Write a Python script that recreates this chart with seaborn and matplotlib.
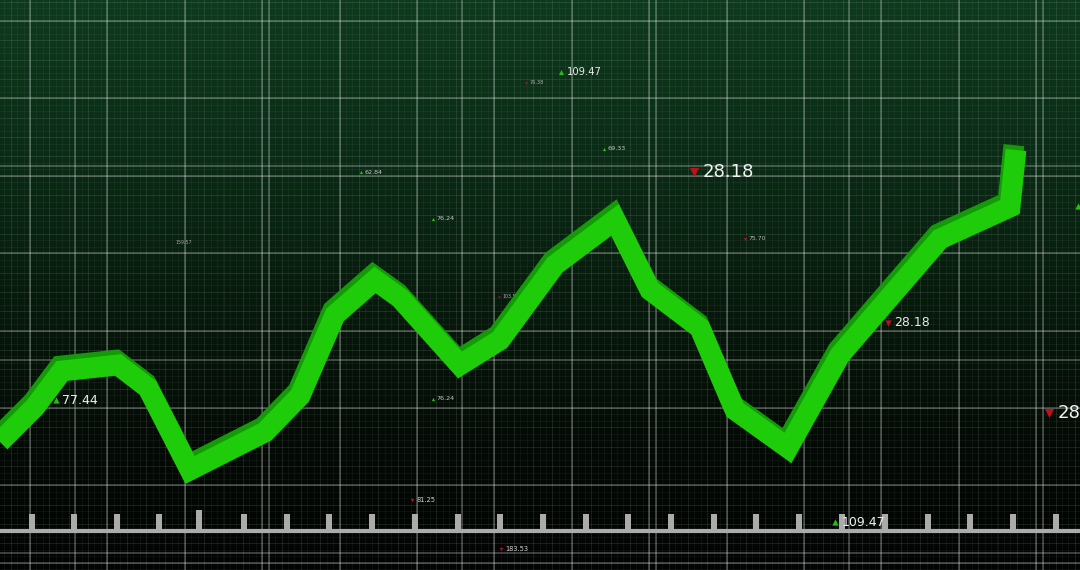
import numpy as np
import pandas as pd
import matplotlib
matplotlib.use("Agg")
import matplotlib.pyplot as plt
import seaborn as sns
from matplotlib.colors import LinearSegmentedColormap
from matplotlib.transforms import ScaledTranslation

# ---- data (x = horizontal position, level = height above bottom) ----
line_x = [0, 35, 62, 118, 148, 190, 265, 300, 335, 375, 400, 460, 500, 555, 615, 650, 700, 735, 788, 840, 940, 1010, 1016]
line_level = [128, 163, 199, 205, 182, 100, 138, 174, 255, 290, 272, 205, 230, 305, 350, 280, 242, 160, 122, 215, 331, 363, 420]

label_x = [561, 526, 604, 361, 694, 433, 172, 745, 499, 888, 56, 433, 412, 501, 835, 1049, 1078]
label_level = [498, 487, 421, 398, 398, 351, 327, 331, 273, 247, 170, 171, 70, 21, 48, 157, 364]
label_text = ["109.47", "76.38", "69.33", "62.84", "28.18", "76.24", "159.57", "75.70", "103.57",
              "28.18", "77.44", "76.24", "81.25", "183.53", "109.47", "28.18", ""]
label_dir = ["up", "down", "up", "up", "down", "up", "none", "down", "down",
             "down", "up", "up", "down", "down", "up", "down", "up"]
label_size = [7.2, 3.6, 4.6, 4.6, 13, 4.6, 3.4, 4.4, 3.4, 9, 9, 4.6, 4.8, 4.8, 9, 13, 9]
label_tone = ["#e8e8e8", "#a8a8a8", "#c8c8c8", "#c8c8c8", "#f2f2f2", "#c8c8c8", "#a0a0a0", "#b4b4b4",
              "#a8a8a8", "#e8e8e8", "#f0f0f0", "#c8c8c8", "#d0d0d0", "#d0d0d0", "#f0f0f0", "#f2f2f2", "#f0f0f0"]

ruler_x = [32, 74, 117, 159, 199, 244, 287, 329, 372, 415, 458, 500, 543, 586, 628, 671, 714, 756,
           799, 842, 885, 928, 970, 1013, 1056]
ruler_h = [17, 17, 17, 17, 21, 17, 17, 17, 17, 17, 17, 17, 17, 17, 17, 17, 17, 17,
           17, 17, 17, 17, 17, 17, 17]

# ---- styling ----
sns.set_theme(style="dark")
plt.rcParams['font.family'] = ['DejaVu Sans']

W, H = 1080, 570
fig = plt.figure(figsize=(10.8, 5.7), dpi=100)
ax = fig.add_axes([0, 0, 1, 1])
ax.set_xlim(0, W)
ax.set_ylim(0, H)
for s in ax.spines.values():
    s.set_visible(False)
ax.set_xticks([])
ax.set_yticks([])
ax.grid(False)

# background gradient
cmap = LinearSegmentedColormap.from_list(
    "bg", [(0.0, "#020403"), (0.22, "#040a05"), (0.5, "#071c0d"), (0.75, "#0b2d17"), (1.0, "#0e3a1e")])
ax.imshow(np.linspace(0, 1, 256).reshape(-1, 1), extent=[0, W, 0, H], origin="lower",
          aspect="auto", cmap=cmap, zorder=0)

# grids: fine, grid A (77.4 spacing), grid B (193.6 spacing)
stepA = 77.4
fine = stepA / 12
ax.vlines(np.arange(30 % fine, W, fine), 0, H, color="white", alpha=0.045, lw=0.8, zorder=1)
ax.hlines(np.arange(549 % fine, H, fine), 0, W, color="white", alpha=0.045, lw=0.8, zorder=1)
mid = stepA / 4
ax.vlines(np.arange(30 % mid, W, mid), 0, H, color="white", alpha=0.06, lw=0.8, zorder=1)
ax.hlines(np.arange(549 % mid, H, mid), 0, W, color="white", alpha=0.06, lw=0.8, zorder=1)
ax.vlines(np.arange(30, W, stepA), 0, H, color="white", alpha=0.3, lw=1.1, zorder=1)
ax.hlines(np.arange(549, 0, -stepA), 0, W, color="white", alpha=0.3, lw=1.1, zorder=1)
stepB = 193.6
ax.vlines(np.arange(75, W, stepB), 0, H, color="white", alpha=0.3, lw=1.1, zorder=1)
ax.hlines(np.arange(404, 0, -stepB), 0, W, color="white", alpha=0.3, lw=1.1, zorder=1)

# ruler at bottom
ax.axhline(39, color="#ababab", lw=3.0, zorder=3)
ax.bar(ruler_x, ruler_h, bottom=39, width=6, color="#ababab", zorder=3, linewidth=0)

# labels with arrows
for x, y, t, d, sz, c in zip(label_x, label_level, label_text, label_dir, label_size, label_tone):
    if d == "up":
        ax.scatter([x], [y], marker="^", s=(sz * 0.5) ** 2, color="#22c010", linewidths=0, zorder=4)
    elif d == "down":
        ax.scatter([x], [y], marker="v", s=(sz * 0.5) ** 2, color="#c0101c", linewidths=0, zorder=4)
    if t:
        ax.annotate(t, (x, y), xytext=(sz * 0.4 + 1, 0), textcoords="offset points",
                    fontsize=sz, color=c, va="center", ha="left", zorder=4, annotation_clip=False)

# price line with darker shadow
df = pd.DataFrame({"x": line_x, "level": line_level})
sns.lineplot(data=df, x="x", y="level", sort=False, estimator=None, color="#149a08", lw=15,
             solid_joinstyle="miter", solid_capstyle="butt", ax=ax, zorder=5)
shadow = ax.lines[-1]
shadow.set_transform(ax.transData + ScaledTranslation(-1.5 / 72, 3.5 / 72, fig.dpi_scale_trans))
sns.lineplot(data=df, x="x", y="level", sort=False, estimator=None, color="#1ecc0a", lw=15,
             solid_joinstyle="miter", solid_capstyle="butt", ax=ax, zorder=6)
ax.set_xlabel("")
ax.set_ylabel("")
ax.set_xlim(0, W)
ax.set_ylim(0, H)

fig.savefig("out.png", dpi=100)
